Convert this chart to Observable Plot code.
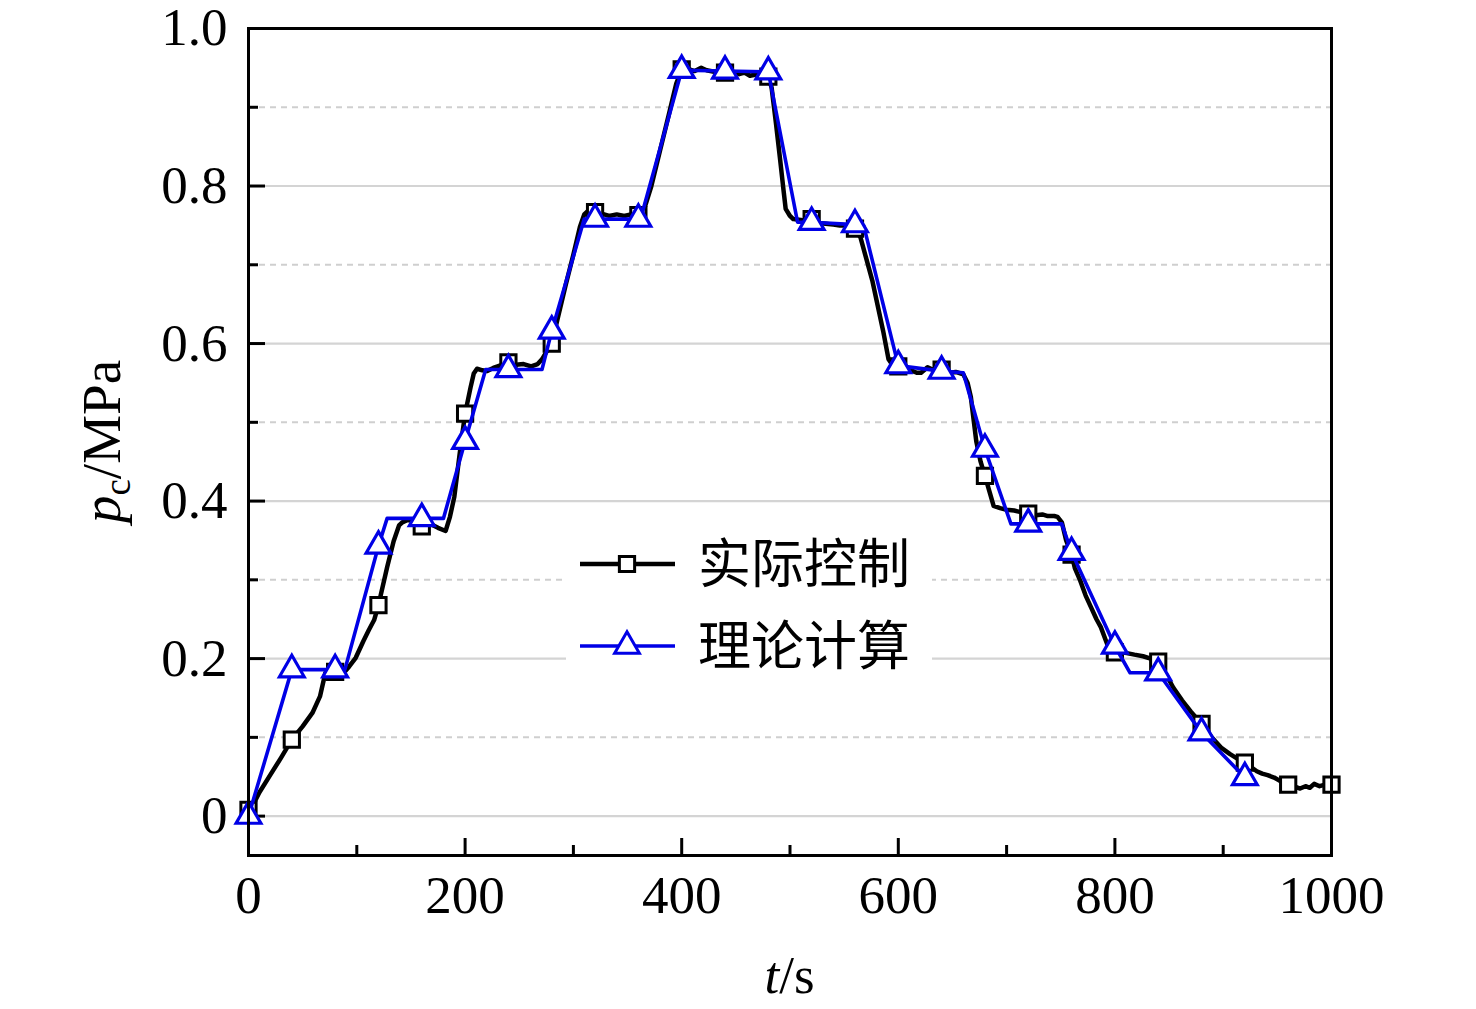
<!DOCTYPE html>
<html><head><meta charset="utf-8">
<script src="https://cdn.jsdelivr.net/npm/d3@7"></script>
<script src="https://cdn.jsdelivr.net/npm/@observablehq/plot@0.6"></script>
<style>
body{margin:0;background:#fff;}
#wrap{position:relative;width:1476px;height:1009px;}
#legend{position:absolute;left:0;top:0;}
</style></head><body><div id="wrap"></div>
<script>
// 实际控制 (measured) curve, t in s, p in MPa
const actualT = [0,3,10,20,30,40,50,59,66,71,80,88,93,99,106,111,116,120,128,134,139,142,147,151,156,160,163,168,175,182,186,190,195,200,205,208,211,216,220,226,232,240,247,254,261,267,271,274,280,285,293,300,306,310,314,320,326,333,340,347,353,360,365,372,380,388,395,400,405,412,418,423,430,436,440,447,453,458,463,470,476,480,483,487,491,494,496,500,503,510,516,520,527,533,540,546,552,556,560,565,570,576,581,586,591,596,600,606,612,617,621,627,633,640,647,653,660,664,667,672,676,680,684,688,694,700,707,713,720,727,733,738,744,747,751,755,760,763,768,773,778,783,787,793,800,806,811,818,826,833,840,846,854,862,870,880,890,898,906,913,920,925,931,936,941,947,952,960,965,971,976,980,984,989,994,1000];
const actualP = [0.008,0.011,0.03,0.052,0.074,0.097,0.114,0.131,0.152,0.182,0.183,0.182,0.19,0.201,0.222,0.236,0.249,0.268,0.316,0.349,0.369,0.373,0.376,0.375,0.373,0.368,0.371,0.371,0.366,0.362,0.38,0.405,0.46,0.511,0.544,0.562,0.568,0.566,0.565,0.569,0.572,0.576,0.573,0.574,0.571,0.574,0.58,0.587,0.60,0.629,0.675,0.713,0.748,0.764,0.769,0.767,0.765,0.762,0.764,0.762,0.764,0.763,0.769,0.80,0.845,0.89,0.93,0.948,0.949,0.946,0.950,0.947,0.945,0.948,0.944,0.945,0.942,0.944,0.940,0.942,0.940,0.939,0.925,0.88,0.832,0.795,0.771,0.762,0.758,0.757,0.755,0.758,0.753,0.752,0.751,0.750,0.750,0.748,0.746,0.735,0.71,0.68,0.648,0.616,0.58,0.570,0.571,0.567,0.566,0.563,0.563,0.570,0.566,0.567,0.563,0.564,0.561,0.55,0.532,0.476,0.45,0.432,0.413,0.394,0.391,0.389,0.388,0.386,0.384,0.382,0.383,0.381,0.381,0.38,0.373,0.35,0.332,0.315,0.299,0.28,0.265,0.25,0.24,0.218,0.208,0.208,0.207,0.205,0.203,0.200,0.196,0.183,0.163,0.147,0.133,0.117,0.099,0.087,0.079,0.073,0.068,0.063,0.057,0.054,0.052,0.049,0.045,0.040,0.038,0.035,0.038,0.036,0.041,0.038,0.040,0.040];
// 理论计算 (theoretical) curve
const theoryT = [0,40,80,89,120,128,160,180,200,219,240,271,280,310,320,360,362,400,440,480,507,520,560,568,600,640,660,680,704,720,751,760,800,814,840,880,920];
const theoryP = [0,0.186,0.186,0.186,0.343,0.378,0.378,0.378,0.476,0.567,0.567,0.567,0.616,0.758,0.758,0.758,0.758,0.947,0.946,0.945,0.754,0.754,0.751,0.750,0.572,0.565,0.563,0.466,0.371,0.371,0.371,0.335,0.216,0.182,0.182,0.106,0.049];
const markerEvery = 40;
const seriesNames = ["实际控制", "理论计算"];
const xMajor = [0, 200, 400, 600, 800, 1000];
const xMinor = [100, 300, 500, 700, 900];
const yMajor = [0, 0.2, 0.4, 0.6, 0.8, 1.0];
const yMinor = [0.1, 0.3, 0.5, 0.7, 0.9];

const actual = actualT.map((t, i) => ({t, p: actualP[i]}));
const theory = theoryT.map((t, i) => ({t, p: theoryP[i]}));
const isMarker = d => d.t % markerEvery === 0;

const W = 1476, H = 1009, mL = 248, mR = 145, mT = 28, mB = 154;
const plotW = W - mL - mR, plotH = H - mT - mB;
const BLUE = "#0000e6";
const serif = "'Liberation Serif','Times New Roman',serif";
const SQ_R = 8.6, TRI_R = 9.2;

const chart = Plot.plot({
  width: W, height: H,
  marginLeft: mL, marginRight: mR, marginTop: mT, marginBottom: mB,
  style: {fontFamily: serif, fontSize: "53px", background: "#fff", color: "#000", overflow: "visible"},
  x: {domain: [0, 1000], label: null},
  y: {domain: [-0.05, 1.0], label: null},
  marks: [
    Plot.ruleY(yMinor, {stroke: "#cfcfcf", strokeWidth: 2, strokeDasharray: "6,5"}),
    Plot.ruleY(yMajor.filter(v => v < 1), {stroke: "#d4d4d4", strokeWidth: 2.2}),
    Plot.tickX(xMajor, {x: d => d, insetTop: plotH - 17, stroke: "#000", strokeWidth: 3}),
    Plot.tickX(xMinor, {x: d => d, insetTop: plotH - 10, stroke: "#000", strokeWidth: 3}),
    Plot.tickY(yMajor, {y: d => d, insetRight: plotW - 17, stroke: "#000", strokeWidth: 3}),
    Plot.tickY(yMinor, {y: d => d, insetRight: plotW - 10, stroke: "#000", strokeWidth: 3}),
    Plot.line(actual, {x: "t", y: "p", stroke: "#000", strokeWidth: 4.5, strokeLinejoin: "round"}),
    Plot.dot(actual.filter(isMarker), {x: "t", y: "p", symbol: "square", r: SQ_R, stroke: "#000", fill: "#fff", strokeWidth: 3}),
    Plot.line(theory, {x: "t", y: "p", stroke: BLUE, strokeWidth: 3.6, strokeLinejoin: "round"}),
    Plot.dot(theory.filter(isMarker), {x: "t", y: "p", symbol: "triangle", r: TRI_R, stroke: BLUE, fill: "#fff", strokeWidth: 3.2}),
    Plot.frame({stroke: "#000", strokeWidth: 3}),
    Plot.axisX(xMajor, {tickSize: 0, tickPadding: 20, fontSize: 53, tickFormat: d => String(d)}),
    Plot.axisY(yMajor, {tickSize: 0, tickPadding: 21, fontSize: 53, tickFormat: d => d === 0 ? "0" : d.toFixed(1)})
  ]
});
document.getElementById("wrap").appendChild(chart);

const svg = d3.select(chart);
// x axis title: t/s
const xt = svg.append("text")
  .attr("x", mL + plotW / 2).attr("y", 993)
  .attr("text-anchor", "middle")
  .style("font-family", serif).style("font-size", "53px").attr("fill", "#000");
xt.append("tspan").style("font-style", "italic").text("t");
xt.append("tspan").text("/s");
// y axis title: p_c/MPa
const yt = svg.append("text")
  .attr("transform", `translate(120,${mT + plotH / 2}) rotate(-90)`)
  .attr("text-anchor", "middle")
  .style("font-family", serif).style("font-size", "55px").attr("fill", "#000");
yt.append("tspan").style("font-style", "italic").text("p");
yt.append("tspan").attr("dy", 10).style("font-size", "37px").text("c");
yt.append("tspan").attr("dy", -10).text("/MPa");

// legend (inside plot area)
const lg = d3.select("#wrap").append("svg").attr("id", "legend")
  .attr("width", W).attr("height", H).style("pointer-events", "none");
lg.append("rect").attr("x", 566).attr("y", 522).attr("width", 366).attr("height", 154).attr("fill", "#fff");
const rows = [
  {name: seriesNames[0], y: 564, color: "#000", sym: d3.symbolSquare, r: SQ_R, sw: 4.5},
  {name: seriesNames[1], y: 646, color: BLUE, sym: d3.symbolTriangle, r: TRI_R, sw: 3.6}
];
rows.forEach(r => {
  lg.append("line").attr("x1", 580).attr("x2", 675).attr("y1", r.y).attr("y2", r.y)
    .attr("stroke", r.color).attr("stroke-width", r.sw);
  lg.append("path").attr("d", d3.symbol(r.sym, Math.PI * r.r * r.r)())
    .attr("transform", `translate(627,${r.y})`)
    .attr("fill", "#fff").attr("stroke", r.color).attr("stroke-width", 3);
  lg.append("text").attr("x", 698).attr("y", r.y).attr("dy", "0.36em")
    .style("font-family", "'Noto Sans CJK SC', sans-serif").style("font-size", "53px")
    .attr("fill", "#000").text(r.name);
});
</script>
</body></html>
